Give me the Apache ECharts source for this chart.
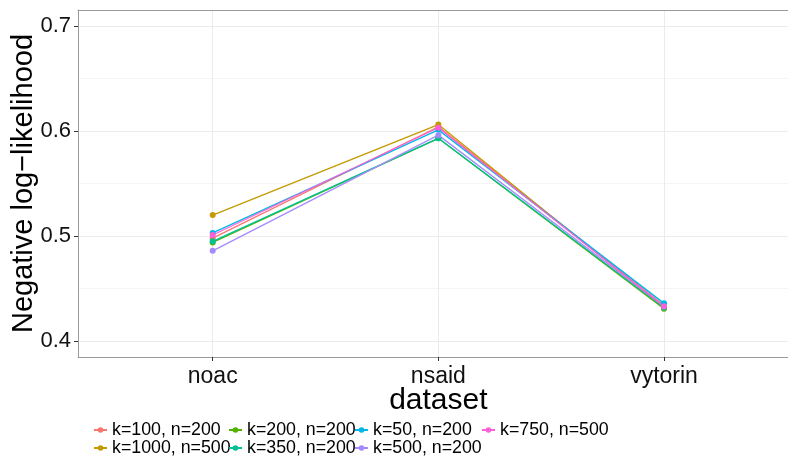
<!DOCTYPE html>
<html><head><meta charset="utf-8">
<script src="https://cdn.jsdelivr.net/npm/echarts@6/dist/echarts.min.js"></script>
<style>html,body{margin:0;padding:0;background:#fff}#c{width:788px;height:456px}</style>
</head><body><div id="c"></div>
<script>
// ---- data ----
const categories = ['noac', 'nsaid', 'vytorin'];
const seriesNames = ['k=100, n=200', 'k=1000, n=500', 'k=200, n=200', 'k=350, n=200', 'k=50, n=200', 'k=500, n=200', 'k=750, n=500'];
const k100_n200  = [0.498, 0.604, 0.434];
const k1000_n500 = [0.520, 0.606, 0.432];
const k200_n200  = [0.494, 0.593, 0.431];
const k350_n200  = [0.495, 0.593, 0.432];
const k50_n200   = [0.503, 0.601, 0.436];
const k500_n200  = [0.486, 0.596, 0.433];
const k750_n500  = [0.501, 0.603, 0.433];
const yTickMin = 0.4, yTickMax = 0.7, yTickStep = 0.1;
const yLimMin = 0.385, yLimMax = 0.715;

const seriesValues = [k100_n200, k1000_n500, k200_n200, k350_n200, k50_n200, k500_n200, k750_n500];
const colors = ['#F8766D', '#C49A00', '#53B400', '#00C094', '#00B6EB', '#A58AFF', '#FB61D7'];

// ---- layout ----
const FONT = "'Liberation Sans', Arial, sans-serif";
const panelTop = 10, panelH = 347, panelLeft = 78, panelW = 721;
const pxPerUnit = panelH / (yLimMax - yLimMin);
const labTop = panelTop + (yLimMax - yTickMax) * pxPerUnit;
const labH = (yTickMax - yTickMin) * pxPerUnit;
const BORDER = '#9a9a9a';

const legendLayout = [
  {name: seriesNames[0], left: 93, top: 421},
  {name: seriesNames[2], left: 228, top: 421},
  {name: seriesNames[4], left: 354, top: 421},
  {name: seriesNames[6], left: 481, top: 421},
  {name: seriesNames[1], left: 93, top: 439},
  {name: seriesNames[3], left: 228, top: 439},
  {name: seriesNames[5], left: 354, top: 439}
];

const borderAxis = (extra) => Object.assign({
  gridIndex: 0, type: 'value', min: 0, max: 1,
  axisLine: {show: true, onZero: false, lineStyle: {color: BORDER, width: 1}},
  axisTick: {show: false}, axisLabel: {show: false}, splitLine: {show: false}
}, extra);

const chart = echarts.init(document.getElementById('c'), null, {renderer: 'canvas'});
chart.setOption({
  animation: false,
  backgroundColor: '#fff',
  textStyle: {fontFamily: FONT},
  grid: [
    {left: panelLeft, top: panelTop, width: panelW, height: panelH},
    {left: 212.7, top: panelTop, width: 451.3, height: panelH},
    {left: panelLeft, top: labTop, width: panelW, height: labH}
  ],
  xAxis: [
    borderAxis({position: 'bottom'}),
    {gridIndex: 1, type: 'category', data: categories, boundaryGap: false,
     axisLine: {show: false, onZero: false},
     axisTick: {show: true, length: 4, lineStyle: {color: '#333'}},
     axisLabel: {fontSize: 23, color: '#111', margin: 8, fontFamily: FONT},
     splitLine: {show: true, lineStyle: {color: '#ebebeb', width: 1}},
     name: 'dataset', nameLocation: 'middle', nameGap: 29, nameMoveOverlap: false,
     nameTextStyle: {fontSize: 30, color: '#000', fontFamily: FONT}},
    {gridIndex: 2, type: 'value', show: false, min: 0, max: 1},
    borderAxis({position: 'top'})
  ],
  yAxis: [
    borderAxis({position: 'left'}),
    {gridIndex: 1, type: 'value', min: yLimMin, max: yLimMax, show: false, axisLine: {onZero: false}},
    {gridIndex: 2, type: 'value', min: yTickMin, max: yTickMax, interval: yTickStep,
     axisLine: {show: false, onZero: false},
     axisTick: {show: true, length: 4, lineStyle: {color: '#333'}},
     axisLabel: {fontSize: 22, color: '#111', margin: 7, fontFamily: FONT},
     splitLine: {show: true, lineStyle: {color: '#ebebeb', width: 1}},
     minorTick: {show: false, splitNumber: 2},
     minorSplitLine: {show: true, lineStyle: {color: '#f4f4f4', width: 1}},
     name: 'Negative log\u2212likelihood', nameLocation: 'middle', nameGap: 40, nameMoveOverlap: false,
     nameTextStyle: {fontSize: 29, color: '#000', fontFamily: FONT}}
  ],
  legend: legendLayout.map(l => ({
    data: [l.name], left: l.left, top: l.top, padding: 0, itemGap: 0,
    itemWidth: 13, itemHeight: 7, selectedMode: false, orient: 'horizontal',
    textStyle: {fontSize: 17.8, color: '#000', fontFamily: FONT, lineHeight: 18}
  })),
  series: seriesNames.map((n, i) => ({
    name: n, type: 'line', xAxisIndex: 1, yAxisIndex: 1,
    data: seriesValues[i], color: colors[i],
    symbol: 'circle', symbolSize: 6, clip: false,
    lineStyle: {width: 1.3, color: colors[i]},
    itemStyle: {color: colors[i]}
  }))
});
</script></body></html>
